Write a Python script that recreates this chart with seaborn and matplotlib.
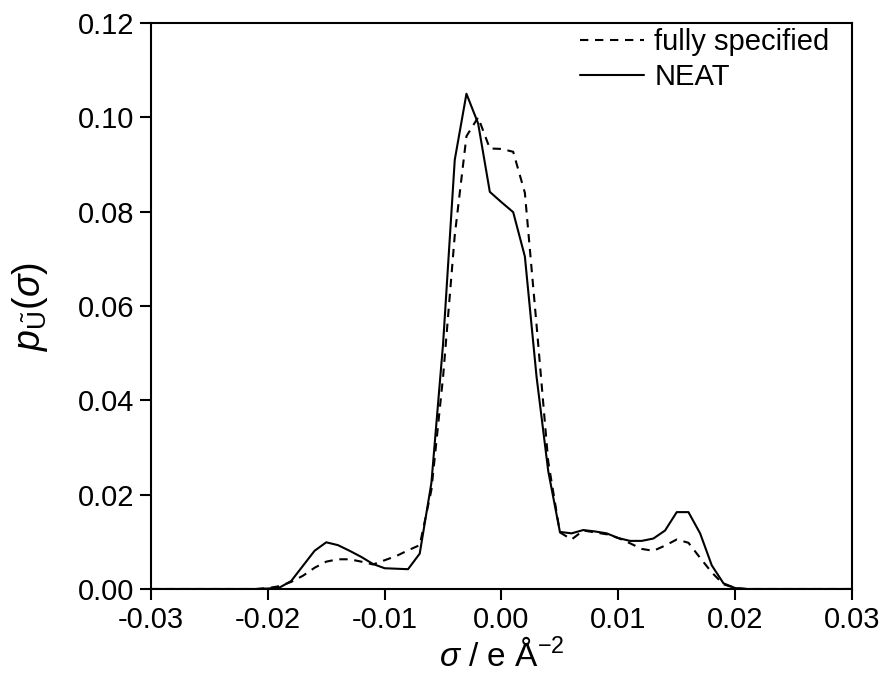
import numpy as np
import pandas as pd
import matplotlib
matplotlib.use("Agg")
import matplotlib.pyplot as plt
import seaborn as sns

# sigma grid (e/Å^2)
sigma = np.round(np.linspace(-0.030, 0.030, 61), 3)

zeros10 = [0.0] * 10
neat_core = [0.0001, 0.0003, 0.0017, 0.0049, 0.0081, 0.0099, 0.0093, 0.0081, 0.0068, 0.0053,
             0.0044, 0.0043, 0.0042, 0.0075, 0.0225, 0.052, 0.091, 0.105, 0.0987, 0.0842,
             0.082, 0.0799, 0.0705, 0.045, 0.025, 0.0121, 0.0118, 0.0125, 0.0122, 0.0118,
             0.0108, 0.0102, 0.0102, 0.0107, 0.0124, 0.0163, 0.0163, 0.0118, 0.0050, 0.0012,
             0.0002]
full_core = [0.0002, 0.0006, 0.0015, 0.0028, 0.0045, 0.0058, 0.0063, 0.0063, 0.0058, 0.0052,
             0.0061, 0.0070, 0.0082, 0.0093, 0.021, 0.045, 0.075, 0.096, 0.100, 0.0934,
             0.0933, 0.0927, 0.084, 0.056, 0.027, 0.012, 0.0105, 0.0124, 0.0120, 0.0116,
             0.0108, 0.0097, 0.0085, 0.0081, 0.0092, 0.0105, 0.0098, 0.0066, 0.0035, 0.0010,
             0.0002]
neat = zeros10 + neat_core + zeros10
fully_specified = zeros10 + full_core + zeros10

series_names = ["fully specified", "NEAT"]
xticks = [-0.03, -0.02, -0.01, 0.00, 0.01, 0.02, 0.03]
yticks = [0.00, 0.02, 0.04, 0.06, 0.08, 0.10, 0.12]

df = pd.DataFrame({
    "sigma": np.concatenate([sigma, sigma]),
    "p": np.concatenate([fully_specified, neat]),
    "model": [series_names[0]] * len(sigma) + [series_names[1]] * len(sigma),
})

sns.set_theme(style="ticks")
plt.rcParams.update({
    "font.family": ["Liberation Sans", "DejaVu Sans"],
    "mathtext.fontset": "custom",
    "mathtext.rm": "Liberation Sans",
    "mathtext.it": "Liberation Sans:italic",
    "mathtext.bf": "Liberation Sans:bold",
    "axes.unicode_minus": False,
    "axes.linewidth": 1.5,
    "xtick.major.width": 1.5,
    "ytick.major.width": 1.5,
    "xtick.major.size": 8,
    "ytick.major.size": 8,
    "xtick.color": "black",
    "ytick.color": "black",
    "axes.edgecolor": "black",
    "axes.labelcolor": "black",
    "text.color": "black",
})

fig = plt.figure(figsize=(8.84, 6.91), dpi=100)
ax = fig.add_axes([151 / 884, 1 - 589 / 691, (852 - 151) / 884, (589 - 23) / 691])

sns.lineplot(data=df, x="sigma", y="p", hue="model", style="model",
             hue_order=series_names, style_order=series_names,
             palette={series_names[0]: "black", series_names[1]: "black"},
             dashes={series_names[0]: (4, 3.2), series_names[1]: ""},
             linewidth=1.5, ax=ax, sort=False)

ax.set_xlim(-0.03, 0.03)
ax.set_ylim(0, 0.12)
ax.set_xticks(xticks)
ax.set_xticklabels([f"{t:.2f}" for t in xticks], fontsize=21)
ax.set_yticks(yticks)
ax.set_yticklabels([f"{t:.2f}" for t in yticks], fontsize=21)
ax.tick_params(axis="both", direction="out", pad=4, top=False, right=False)

ax.set_xlabel(r"$\sigma$ / e Å$^{\mathrm{-2}}$", fontsize=24, labelpad=4)
ax.set_ylabel(r"$p_{\tilde{\mathrm{U}}}(\sigma)$", fontsize=27, labelpad=20)

leg = ax.legend(loc="upper right", frameon=False, fontsize=21,
                handlelength=2.2, handletextpad=0.35, labelspacing=0.25,
                borderaxespad=0.1, bbox_to_anchor=(0.9886, 1.017))
for line in leg.get_lines():
    line.set_linewidth(1.5)

fig.savefig("out.png", dpi=100)
